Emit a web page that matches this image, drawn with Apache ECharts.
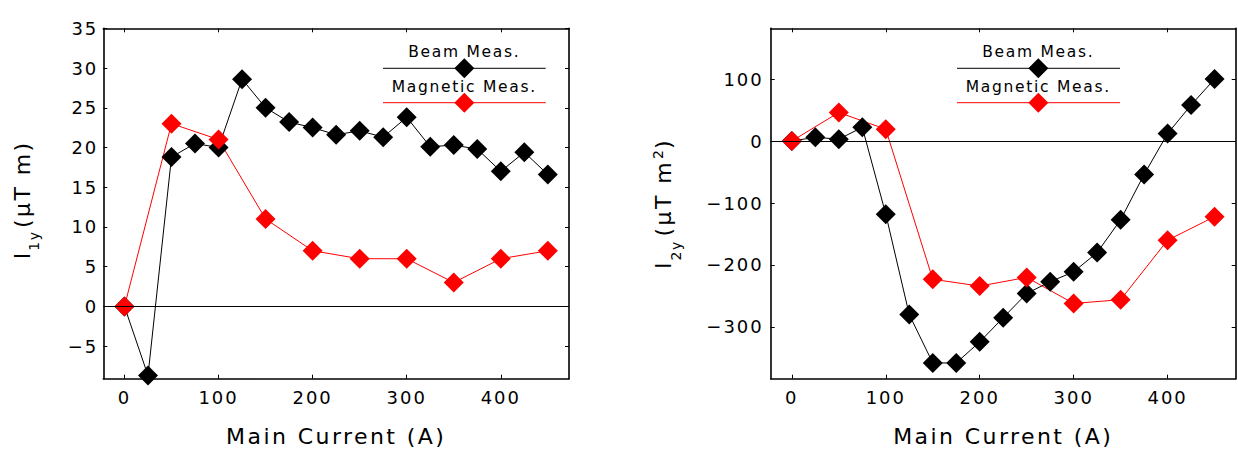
<!DOCTYPE html>
<html>
<head>
<meta charset="utf-8">
<script src="https://cdn.jsdelivr.net/npm/echarts@6/dist/echarts.min.js"></script>
<style>
  html, body { margin: 0; padding: 0; background: #fff; }
  #chart { width: 1238px; height: 450px; }
  #chart svg text { letter-spacing: 0.11em; }
</style>
</head>
<body>
<div id="chart"></div>
<script>
// ---- data ----
const beamCurrent = [0, 25, 50, 75, 100, 125, 150, 175, 200, 225, 250, 275, 300, 325, 350, 375, 400, 425, 450];
const magCurrent = [0, 50, 100, 150, 200, 250, 300, 350, 400, 450];
const beamI1y = [0, -8.7, 18.8, 20.5, 20.0, 28.6, 25.0, 23.2, 22.5, 21.6, 22.1, 21.3, 23.8, 20.1, 20.3, 19.8, 17.0, 19.4, 16.6];
const magI1y = [0, 23.0, 21.0, 11.0, 7.0, 6.0, 6.0, 3.0, 6.0, 7.0];
const beamI2y = [0, 6, 3, 22, -118, -280, -358, -358, -324, -285, -246, -227, -211, -180, -127, -54, 12, 58, 100];
const magI2y = [0, 46, 19, -223, -234, -220, -262, -256, -160, -122];
const xTicks = [0, 100, 200, 300, 400];
const y1Ticks = [-5, 0, 5, 10, 15, 20, 25, 30, 35];
const y2Ticks = [-300, -200, -100, 0, 100];
const seriesNames = ['Beam Meas.', 'Magnetic Meas.'];
const xTitle = 'Main Current (A)';

const FONT = 'DejaVu Sans';
const minusFmt = v => String(v).replace('-', '\u2212');
const pairs = (xs, ys) => xs.map((x, i) => [x, ys[i]]);

function xAx(grid, top, withLabels) {
  return {
    type: 'value', gridIndex: grid, position: top ? 'top' : 'bottom',
    min: -22.5, max: 472.5,
    splitLine: { show: false },
    axisLine: { show: true, onZero: false, lineStyle: { color: '#000', width: 1.6 } },
    axisTick: { show: true, inside: true, length: 4, customValues: xTicks, lineStyle: { color: '#000', width: 1 } },
    axisLabel: withLabels ? { show: true, customValues: xTicks, margin: 10, color: '#000', fontFamily: FONT, fontSize: 18 } : { show: false },
    name: withLabels ? xTitle : '', nameLocation: 'middle', nameGap: 47,
    nameTextStyle: { color: '#000', fontFamily: FONT, fontSize: 22 }
  };
}
function yAx(grid, right, min, max, ticks, name, rich, gap, margin) {
  return {
    type: 'value', gridIndex: grid, position: right ? 'right' : 'left',
    min: min, max: max,
    splitLine: { show: false },
    axisLine: { show: true, onZero: false, lineStyle: { color: '#000', width: 1.6 } },
    axisTick: { show: true, inside: true, length: 4, customValues: ticks, lineStyle: { color: '#000', width: 1 } },
    axisLabel: right ? { show: false } : { show: true, customValues: ticks, margin: margin, color: '#000', fontFamily: FONT, fontSize: 18, formatter: minusFmt },
    name: right ? '' : name, nameLocation: 'middle', nameRotate: 90, nameGap: gap,
    nameTextStyle: { color: '#000', fontFamily: FONT, rich: rich }
  };
}
const richBase = {
  a: { fontFamily: FONT, fontSize: 22, lineHeight: 38, color: '#000', padding: [0, 2.4, 0, 0] },
  s: { fontFamily: FONT, fontSize: 14, lineHeight: 14, color: '#000', verticalAlign: 'bottom', padding: [0, 3, 0, 0] },
  b: { fontFamily: FONT, fontSize: 22, lineHeight: 38, color: '#000', padding: [0, 9, 0, 0] },
  c: { fontFamily: FONT, fontSize: 22, lineHeight: 38, color: '#000' },
  p: { fontFamily: FONT, fontSize: 14, lineHeight: 14, color: '#000', verticalAlign: 'middle', padding: [0, 1.5, 12, 0] }
};

function lineSeries(name, xi, data, color, withZero) {
  const s = {
    name: name, type: 'line', xAxisIndex: xi, yAxisIndex: xi, data: data,
    symbol: 'diamond', symbolSize: 20,
    itemStyle: { color: color }, lineStyle: { color: color, width: 1 },
    clip: false, silent: true
  };
  if (withZero) {
    s.markLine = { silent: true, symbol: 'none', label: { show: false },
      lineStyle: { color: '#000', width: 1, type: 'solid' }, data: [{ yAxis: 0 }], animation: false };
  }
  return s;
}

function legendGraphics(cx, x0, x1) {
  const els = [];
  const rows = [{ name: seriesNames[0], color: '#000', ty: 51.5, ly: 68.3 }, { name: seriesNames[1], color: '#ff0000', ty: 86.5, ly: 102.7 }];
  rows.forEach(r => {
    els.push({ type: 'text', x: cx, y: r.ty, silent: true,
      style: { text: r.name, fill: '#000', font: '15.5px "DejaVu Sans"', align: 'center', verticalAlign: 'middle', textAlign: 'center', textVerticalAlign: 'middle' } });
    els.push({ type: 'line', silent: true, shape: { x1: x0, y1: r.ly, x2: x1, y2: r.ly }, style: { stroke: r.color, lineWidth: 1 } });
    els.push({ type: 'polygon', silent: true, shape: { points: [[cx, r.ly - 10], [cx + 10, r.ly], [cx, r.ly + 10], [cx - 10, r.ly]] }, style: { fill: r.color } });
  });
  return els;
}

const chart = echarts.init(document.getElementById('chart'), null, { renderer: 'svg', width: 1238, height: 450 });
chart.setOption({
  animation: false,
  backgroundColor: '#fff',
  textStyle: { fontFamily: FONT },
  grid: [
    { left: 103.3, top: 28.3, width: 465.7, height: 350.4, outerBoundsMode: 'none', containLabel: false },
    { left: 770.7, top: 28.3, width: 465, height: 350.4, outerBoundsMode: 'none', containLabel: false }
  ],
  xAxis: [xAx(0, false, true), xAx(0, true, false), xAx(1, false, true), xAx(1, true, false)],
  yAxis: [
    yAx(0, false, -9.1, 35, y1Ticks, '{a|I}{s|1y}{c| (μT m)}', richBase, 62, 5),
    yAx(0, true, -9.1, 35, y1Ticks, '', richBase, 0, 0),
    yAx(1, false, -383.4, 181.8, y2Ticks, '{a|I}{s|2y}{b| (μT m}{p|2}{c|)}', richBase, 88, 7),
    yAx(1, true, -383.4, 181.8, y2Ticks, '', richBase, 0, 0)
  ],
  series: [
    lineSeries(seriesNames[0], 0, pairs(beamCurrent, beamI1y), '#000', true),
    lineSeries(seriesNames[1], 0, pairs(magCurrent, magI1y), '#ff0000', false),
    lineSeries(seriesNames[0], 2, pairs(beamCurrent, beamI2y), '#000', true),
    lineSeries(seriesNames[1], 2, pairs(magCurrent, magI2y), '#ff0000', false)
  ],
  graphic: legendGraphics(464.3, 383, 545.7).concat(legendGraphics(1038.3, 957, 1120))
});
</script>
</body>
</html>
